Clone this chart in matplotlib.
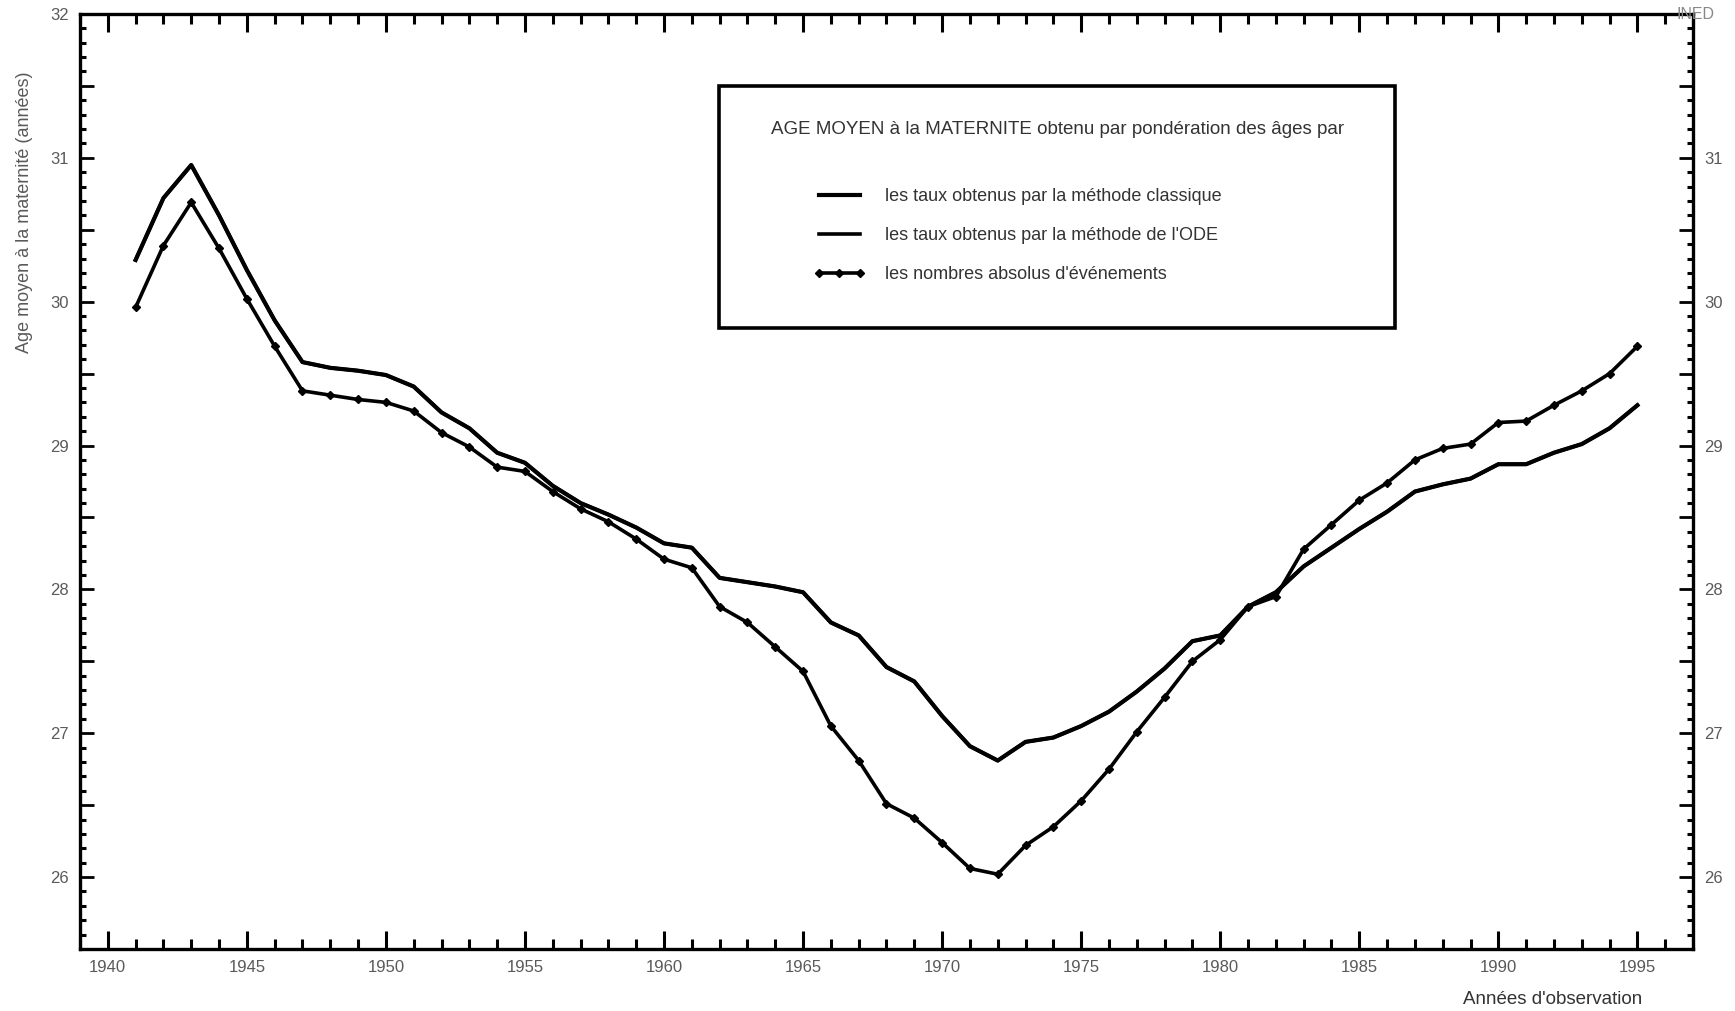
import matplotlib
matplotlib.use("Agg")
import matplotlib.pyplot as plt
from matplotlib.ticker import MultipleLocator, FuncFormatter
from matplotlib.patches import Rectangle
from matplotlib.lines import Line2D

plt.rcParams['font.family'] = ['Liberation Sans', 'DejaVu Sans']

years = list(range(1941, 1996))

classique = [30.29, 30.72, 30.95, 30.60, 30.22, 29.87, 29.58, 29.54, 29.52, 29.49,
             29.41, 29.23, 29.12, 28.95, 28.88, 28.72, 28.60, 28.52, 28.43, 28.32,
             28.29, 28.08, 28.05, 28.02, 27.98, 27.77, 27.68, 27.46, 27.36, 27.12,
             26.91, 26.81, 26.94, 26.97, 27.05, 27.15, 27.29, 27.45, 27.64, 27.68,
             27.88, 27.98, 28.16, 28.29, 28.42, 28.54, 28.68, 28.73, 28.77, 28.87,
             28.87, 28.95, 29.01, 29.12, 29.28]

ode = [30.29, 30.72, 30.95, 30.60, 30.22, 29.87, 29.58, 29.54, 29.52, 29.49,
       29.41, 29.23, 29.12, 28.95, 28.88, 28.72, 28.60, 28.52, 28.43, 28.32,
       28.29, 28.08, 28.05, 28.02, 27.98, 27.77, 27.68, 27.46, 27.36, 27.12,
       26.91, 26.81, 26.94, 26.97, 27.05, 27.15, 27.29, 27.45, 27.64, 27.68,
       27.88, 27.98, 28.16, 28.29, 28.42, 28.54, 28.68, 28.73, 28.77, 28.87,
       28.87, 28.95, 29.01, 29.12, 29.28]

absolus = [29.96, 30.39, 30.69, 30.37, 30.02, 29.69, 29.38, 29.35, 29.32, 29.30,
           29.24, 29.09, 28.99, 28.85, 28.82, 28.68, 28.56, 28.47, 28.35, 28.21,
           28.15, 27.88, 27.77, 27.60, 27.43, 27.05, 26.81, 26.51, 26.41, 26.24,
           26.06, 26.02, 26.22, 26.35, 26.53, 26.75, 27.01, 27.25, 27.50, 27.65,
           27.88, 27.95, 28.28, 28.45, 28.62, 28.74, 28.90, 28.98, 29.01, 29.16,
           29.17, 29.28, 29.38, 29.50, 29.69]

labels = ["les taux obtenus par la méthode classique",
          "les taux obtenus par la méthode de l'ODE",
          "les nombres absolus d'événements"]
legend_title = "AGE MOYEN à la MATERNITE obtenu par pondération des âges par"
ylabel = "Age moyen à la maternité (années)"
xlabel = "Années d'observation"

grey = '#5a5a5a'

fig = plt.figure(figsize=(17.35, 10.11), dpi=100)
ax = fig.add_axes([0.0461, 0.0613, 0.9297, 0.9249])

ax.plot(years, classique, color='black', lw=3.0)
ax.plot(years, ode, color='black', lw=2.6)
ax.plot(years, absolus, color='black', lw=2.6, marker='D', markersize=4.0)

ax.set_xlim(1939.0, 1997.0)
ax.set_ylim(25.5, 32.0)

ax.xaxis.set_major_locator(MultipleLocator(5))
ax.xaxis.set_minor_locator(MultipleLocator(1))
ax.yaxis.set_major_locator(MultipleLocator(0.5))
ax.yaxis.set_minor_locator(MultipleLocator(0.1))

def yfmt(v, pos):
    if abs(v - round(v)) < 1e-6:
        return "%d" % round(v)
    return ""
ax.yaxis.set_major_formatter(FuncFormatter(yfmt))

for s in ax.spines.values():
    s.set_linewidth(2.4)

ax.tick_params(axis='x', which='major', direction='in', length=13, width=2.2,
               top=True, bottom=True, labelsize=12, labelcolor=grey, pad=8)
ax.tick_params(axis='x', which='minor', direction='in', length=7, width=2.2,
               top=True, bottom=True)
ax.tick_params(axis='y', which='major', direction='in', length=10, width=2.0,
               left=True, right=True, labelleft=True, labelright=True,
               labelsize=12, labelcolor=grey, pad=8)
ax.tick_params(axis='y', which='minor', direction='in', length=4, width=2.2,
               left=True, right=True)

# no right-hand label at the top (INED mark sits there)
for loc, tick in zip(ax.get_yticks(), ax.yaxis.get_major_ticks()):
    if abs(loc - 32.0) < 1e-6:
        tick.label2.set_visible(False)

fig.text(0.0144, 0.79, ylabel, rotation=90, ha='center', va='center',
         fontsize=13, color=grey)
fig.text(0.895, 0.011, xlabel, ha='center', va='center', fontsize=13.5, color='#333333')
fig.text(0.9775, 0.986, "INED", ha='center', va='center', fontsize=11.5, color='#888888')

# legend box
ax.add_patch(Rectangle((0.396, 0.664), 0.419, 0.259, transform=ax.transAxes,
                       fill=False, edgecolor='black', lw=2.6, zorder=5))
ax.text(0.606, 0.876, legend_title, transform=ax.transAxes, ha='center', va='center',
        fontsize=13.5, color='#333333', zorder=6)
handles = [Line2D([], [], color='black', lw=3.0),
           Line2D([], [], color='black', lw=2.6),
           Line2D([], [], color='black', lw=2.6, marker='D', markersize=4.0)]
leg = ax.legend(handles, labels, loc='upper left', bbox_to_anchor=(0.449, 0.823),
                frameon=False, fontsize=13, handlelength=2.9, handletextpad=1.05,
                labelspacing=1.2, borderpad=0, numpoints=3)
for t in leg.get_texts():
    t.set_color('#333333')

fig.savefig("out.png", dpi=100)
